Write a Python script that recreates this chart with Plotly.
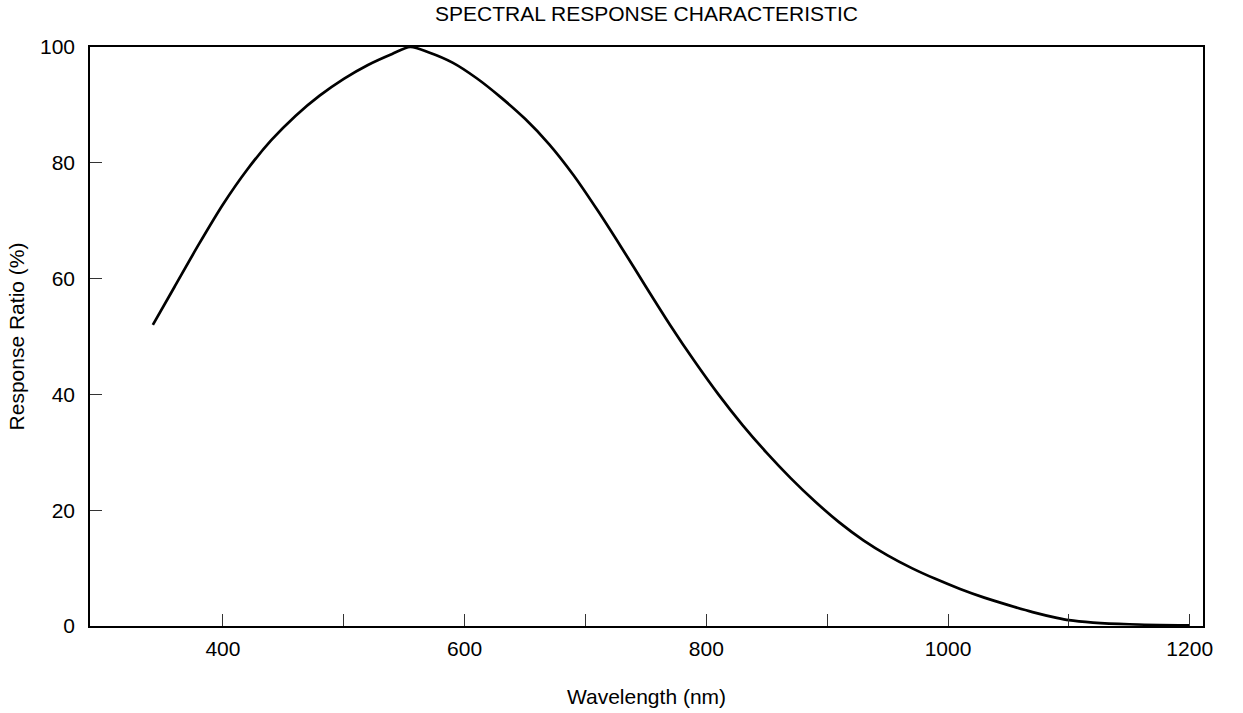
import plotly.graph_objects as go

wavelength_nm = [342, 360, 380, 400, 420, 440, 460, 480, 500, 520, 540, 555,
                 570, 590, 610, 630, 650, 670, 690, 710, 730, 750, 770, 790,
                 810, 830, 850, 870, 890, 910, 930, 950, 970, 990, 1010, 1030,
                 1050, 1070, 1090, 1100, 1120, 1150, 1200]
response_pct = [52.0, 58.6, 65.9, 72.8, 78.8, 83.9, 88.1, 91.6, 94.5, 96.9, 98.8, 100.0,
                99.1, 97.3, 94.6, 91.3, 87.6, 83.2, 77.9, 71.8, 65.3, 58.6, 52.0, 45.8,
                40.0, 34.7, 29.9, 25.5, 21.5, 17.9, 14.8, 12.2, 10.0, 8.1, 6.4, 4.9,
                3.6, 2.4, 1.4, 1.0, 0.6, 0.3, 0.1]

x_tick_vals = [400, 500, 600, 700, 800, 900, 1000, 1100, 1200]
x_tick_text = ["400", "", "600", "", "800", "", "1000", "", "1200"]
y_tick_vals = [0, 20, 40, 60, 80, 100]
y_tick_text = ["0", "20", "40", "60", "80", "100"]

fig = go.Figure()
fig.add_trace(go.Scatter(
    x=wavelength_nm, y=response_pct, mode="lines",
    line=dict(color="black", width=2.7, shape="spline", smoothing=0.8),
    showlegend=False, hoverinfo="skip"))

font = "Liberation Sans, Arial, sans-serif"
fig.update_layout(
    width=1243, height=713,
    margin=dict(l=90, r=40, t=47, b=87, autoexpand=False),
    paper_bgcolor="white", plot_bgcolor="white",
    font=dict(family=font, size=21, color="black"),
    title=dict(text="SPECTRAL RESPONSE CHARACTERISTIC", x=0.5, xanchor="center",
               xref="paper", y=1 - 14 / 713, yanchor="middle", pad=dict(t=0, b=0),
               font=dict(size=21, family=font, color="black")),
)
fig.update_xaxes(
    range=[290, 1211], tickmode="array", tickvals=x_tick_vals, ticktext=x_tick_text,
    ticks="inside", ticklen=12, tickwidth=1, tickcolor="#333",
    showline=True, linecolor="black", linewidth=1.5, mirror=True,
    showgrid=False, zeroline=False, ticklabelstandoff=3, automargin=False,
    title=dict(text="Wavelength (nm)", standoff=30, font=dict(size=21)),
    tickfont=dict(size=21))
fig.update_yaxes(
    range=[0, 100], tickmode="array", tickvals=y_tick_vals, ticktext=y_tick_text,
    ticks="inside", ticklen=12, tickwidth=1, tickcolor="#333",
    showline=True, linecolor="black", linewidth=1.5, mirror=True,
    showgrid=False, zeroline=False, ticklabelstandoff=9, automargin=False,
    title=dict(text="Response Ratio (%)", standoff=10, font=dict(size=21)),
    tickfont=dict(size=21))

fig.write_html("out.html", config={"displayModeBar": False},
               post_script="document.body.style.margin='0';document.body.style.padding='0';")
